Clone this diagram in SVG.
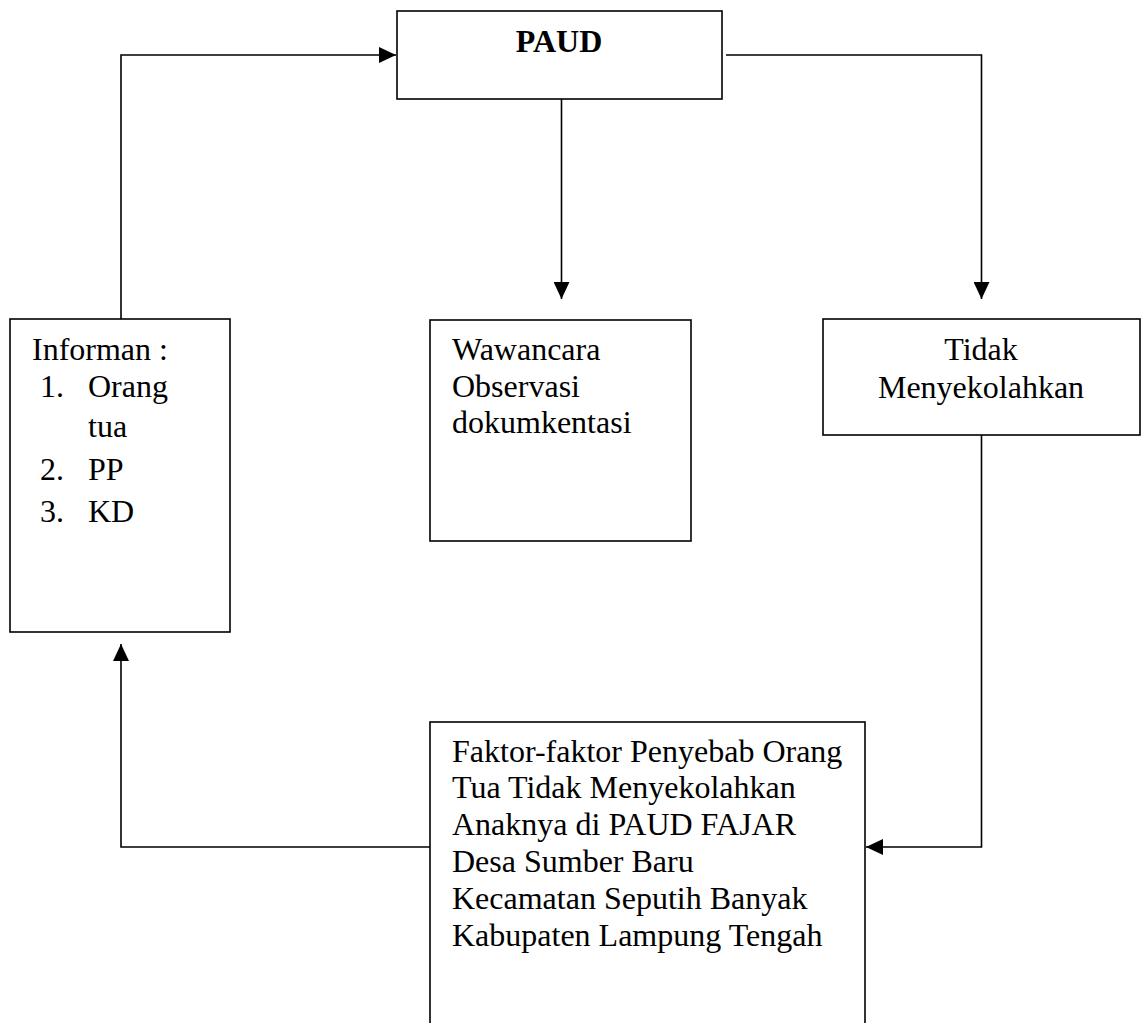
<svg xmlns="http://www.w3.org/2000/svg" width="1146" height="1023" viewBox="0 0 1146 1023">
<style>
.box{fill:#fff;stroke:#000;stroke-width:1.6}
.t{font-family:"Liberation Serif","Times New Roman",serif;font-size:32px;fill:#000}
.b{font-weight:bold}
.c{fill:none;stroke:#000;stroke-width:1.6}
</style>
<defs>
<marker id="ah" markerUnits="userSpaceOnUse" markerWidth="18" markerHeight="16" viewBox="0 0 18 16" refX="17" refY="8" orient="auto">
<path d="M0,0 L17,8 L0,16 Z" fill="#000"/>
</marker>
</defs>
<rect width="1146" height="1023" fill="#fff"/>
<g id="connectors">
<polyline class="c" points="121,319 121,55 396,55" marker-end="url(#ah)"/>
<polyline class="c" points="726,55 981.5,55 981.5,299" marker-end="url(#ah)"/>
<line class="c" x1="561.5" y1="99" x2="561.5" y2="299" marker-end="url(#ah)"/>
<polyline class="c" points="981.5,435 981.5,847 866,847" marker-end="url(#ah)"/>
<polyline class="c" points="430,847 121,847 121,644" marker-end="url(#ah)"/>
</g>
<g id="paud">
<rect class="box" x="397" y="11" width="325" height="88"/>
<text class="t b" x="559" y="52" text-anchor="middle">PAUD</text>
</g>
<g id="informan">
<rect class="box" x="10" y="319" width="220" height="313"/>
<text class="t" x="32" y="360">Informan :</text>
<text class="t" x="40" y="397">1.</text>
<text class="t" x="88" y="397">Orang</text>
<text class="t" x="88" y="437">tua</text>
<text class="t" x="40" y="480">2.</text>
<text class="t" x="88" y="480">PP</text>
<text class="t" x="40" y="522">3.</text>
<text class="t" x="88" y="522">KD</text>
</g>
<g id="metode">
<rect class="box" x="430" y="320" width="261" height="221"/>
<text class="t" x="452" y="360">Wawancara</text>
<text class="t" x="452" y="397">Observasi</text>
<text class="t" x="452" y="433">dokumkentasi</text>
</g>
<g id="tidak">
<rect class="box" x="823" y="319" width="317" height="116"/>
<text class="t" x="981" y="360" text-anchor="middle">Tidak</text>
<text class="t" x="981" y="398" text-anchor="middle">Menyekolahkan</text>
</g>
<g id="faktor">
<rect class="box" x="430" y="722" width="435" height="330"/>
<text class="t" x="452" y="762">Faktor-faktor Penyebab Orang</text>
<text class="t" x="452" y="798">Tua Tidak Menyekolahkan</text>
<text class="t" x="452" y="835">Anaknya di PAUD FAJAR</text>
<text class="t" x="452" y="872">Desa Sumber Baru</text>
<text class="t" x="452" y="909">Kecamatan Seputih Banyak</text>
<text class="t" x="452" y="946">Kabupaten Lampung Tengah</text>
</g>
</svg>
